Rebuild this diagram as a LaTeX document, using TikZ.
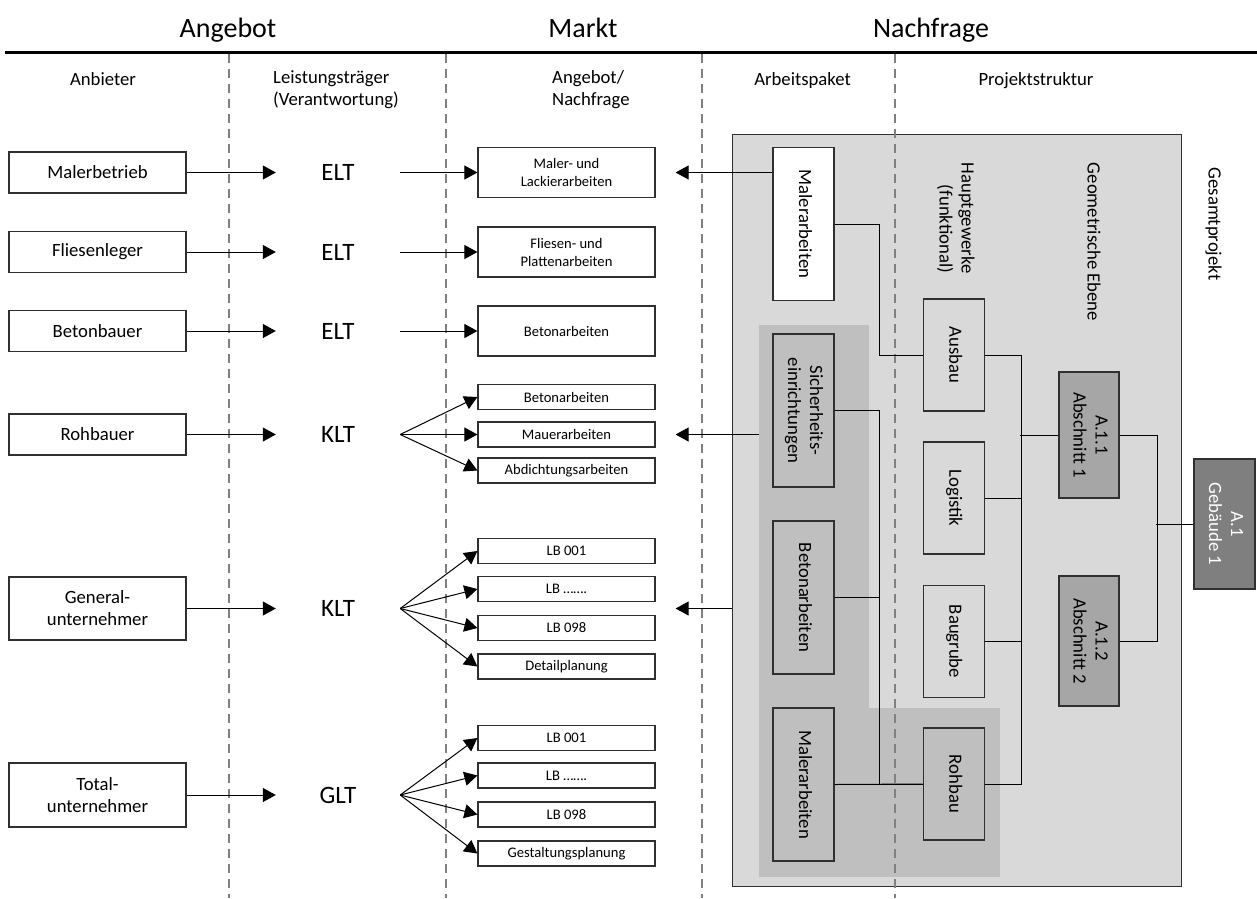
\documentclass[tikz,border=0pt]{standalone}
\usepackage{fontspec}
\setmainfont{Carlito}
\usepackage{graphicx}
\usetikzlibrary{arrows.meta,calc}

\definecolor{fillA}{HTML}{D9D9D9}
\definecolor{fillB}{HTML}{BFBFBF}
\definecolor{fillC}{HTML}{A6A6A6}
\definecolor{fillD}{HTML}{7F7F7F}
\definecolor{dashgray}{HTML}{808080}
\definecolor{edgegray}{HTML}{303030}

\newcommand\fmain{\fontsize{18.7}{22}\selectfont}
\newcommand\fhead{\fontsize{28}{32}\selectfont}
\newcommand\flevel{\fontsize{25}{30}\selectfont}
\newcommand\fsmall{\fontsize{14.6}{18}\selectfont}
\newcommand\rot[2][c]{\rotatebox{-90}{\begin{tabular}{@{}#1@{}}#2\end{tabular}}}

\begin{document}
\begin{tikzpicture}[x=1pt,y=-1pt,
  box/.style={draw=edgegray,line width=1.2pt,inner sep=0pt,align=center,font=\fmain},
  lbox/.style={box,minimum width=177pt,minimum height=41pt},
  mbox/.style={draw=edgegray,line width=1.2pt,inner sep=0pt,align=center,font=\fsmall,minimum width=177pt,minimum height=25pt},
  vbox/.style={box,minimum width=61pt},
  level/.style={inner sep=0pt,font=\flevel,minimum width=124pt,minimum height=20pt},
  arr/.style={line width=1pt,-{Triangle[length=13pt,width=14pt]}},
  con/.style={line width=1pt},
  sep/.style={dashgray,line width=1.8pt,dash pattern=on 9pt off 6pt},
  head/.style={font=\fhead,anchor=base,inner sep=0pt},
  sub/.style={font=\fmain,inner sep=0pt},
]
\useasboundingbox (0,0) rectangle (1257,898);

% ---- headings
\node[head] (hAng) at (228,37) {Angebot};
\node[head] (hMar) at (583,37) {Markt};
\node[head] (hNach) at (931,37) {Nachfrage};
\draw[line width=3pt] (5,52.5) -- (1257,52.5);

\node[sub,anchor=base] (sAnb) at (103,85) {Anbieter};
\node[sub,anchor=north west,align=left] (sLT) at (273,70) {Leistungsträger\\(Verantwortung)};
\node[sub,anchor=north west,align=left] (sAN) at (552,70) {Angebot/\\Nachfrage};
\node[sub,anchor=base] (sAP) at (802.5,85) {Arbeitspaket};
\node[sub,anchor=base] (sPS) at (1036,85) {Projektstruktur};

% ---- project area backgrounds
\node[draw=edgegray,line width=1.2pt,fill=fillA,anchor=north west,minimum width=449pt,minimum height=752pt,inner sep=0pt] (gp) at (732,133.5) {};
\node[fill=fillB,anchor=north west,minimum width=110pt,minimum height=552pt,inner sep=0pt] (grp) at (759,325) {};
\node[fill=fillB,anchor=north west,minimum width=241pt,minimum height=169pt,inner sep=0pt] (grp2) at (759,708) {};

% ---- column separators
\foreach \xs in {229,446,702,895}
  \draw[sep] (\xs,54) -- (\xs,898);

% ---- suppliers
\node[lbox] (a1) at (97.5,172.5) {Malerbetrieb};
\node[lbox] (a2) at (97.5,252) {Fliesenleger};
\node[lbox] (a3) at (97.5,331) {Betonbauer};
\node[lbox] (a4) at (97.5,434.5) {Rohbauer};
\node[lbox,minimum height=63pt] (a5) at (97.5,608.5) {General-\\unternehmer};
\node[lbox,minimum height=64pt] (a6) at (97.5,795) {Total-\\unternehmer};

% ---- performance levels
\node[level] (l1) at (338,172.5) {ELT};
\node[level] (l2) at (338,252) {ELT};
\node[level] (l3) at (338,331) {ELT};
\node[level] (l4) at (338,434.5) {KLT};
\node[level] (l5) at (338,608.5) {KLT};
\node[level] (l6) at (338,795) {GLT};

\foreach \i in {1,...,6}
  \draw[arr] (a\i.east) -- (l\i.west);

% ---- market
\node[mbox,minimum height=50pt] (m1) at (566.5,172.5) {Maler- und\\Lackierarbeiten};
\node[mbox,minimum height=50pt] (m2) at (566.5,252) {Fliesen- und\\Plattenarbeiten};
\node[mbox,minimum height=50pt] (m3) at (566.5,331) {Betonarbeiten};
\node[mbox] (k1) at (566.5,397) {Betonarbeiten};
\node[mbox] (k2) at (566.5,434.5) {Mauerarbeiten};
\node[mbox] (k3) at (566.5,470.5) {Abdichtungsarbeiten};
\node[mbox] (g1) at (566.5,551) {LB 001};
\node[mbox] (g2) at (566.5,589) {LB …….};
\node[mbox] (g3) at (566.5,628) {LB 098};
\node[mbox] (g4) at (566.5,666.5) {Detailplanung};
\node[mbox] (t1) at (566.5,738) {LB 001};
\node[mbox] (t2) at (566.5,775.5) {LB …….};
\node[mbox] (t3) at (566.5,814.5) {LB 098};
\node[mbox] (t4) at (566.5,853.5) {Gestaltungsplanung};

\draw[arr] (l1.east) -- (m1.west);
\draw[arr] (l2.east) -- (m2.west);
\draw[arr] (l3.east) -- (m3.west);
\foreach \i in {1,2,3}
  \draw[arr] (l4.east) -- (k\i.west);
\foreach \i in {1,...,4}
  \draw[arr] (l5.east) -- (g\i.west);
\foreach \i in {1,...,4}
  \draw[arr] (l6.east) -- (t\i.west);

% ---- work packages
\node[vbox,fill=white,minimum height=153pt] (p1) at (803.5,224) {\rot{Malerarbeiten}};
\node[vbox,fill=fillB,minimum height=153pt] (p2) at (803.5,410.5) {\rot{Sicherheits-\\einrichtungen}};
\node[vbox,fill=fillB,minimum height=153pt] (p3) at (803.5,597.5) {\rot{Betonarbeiten}};
\node[vbox,fill=fillB,minimum height=153pt] (p4) at (803.5,784.5) {\rot{Malerarbeiten}};

% demand side arrows back into the market
\coordinate (r1) at ($(m1.east)+(20,0)$);
\coordinate (r4) at ($(k2.east)+(20,0)$);
\coordinate (r5) at ($(g2.east)!0.5!(g3.east)+(20,0)$);
\draw[arr] (p1.west |- m1.east) -- (r1);
\draw[arr] (grp.west |- k2.east) -- (r4);
\draw[arr] (gp.west |- r5) -- (r5);

% ---- functional trades
\node[vbox,fill=fillA,minimum height=112pt] (f1) at (953.75,355) {\rot{Ausbau}};
\node[vbox,fill=fillA,minimum height=112pt] (f2) at (953.75,498) {\rot{Logistik}};
\node[vbox,fill=fillA,minimum height=112pt] (f3) at (953.75,641.5) {\rot{Baugrube}};
\node[vbox,fill=fillB,minimum height=112pt] (f4) at (953.75,784) {\rot{Rohbau}};

% ---- geometric level
\node[vbox,fill=fillC,minimum width=60pt,minimum height=126pt] (s1) at (1089,435) {\rot{A.1.1\\Abschnitt 1}};
\node[vbox,fill=fillC,minimum width=60pt,minimum height=130pt] (s2) at (1089,641) {\rot{A.1.2\\Abschnitt 2}};
\node[vbox,fill=fillD,minimum height=130pt,text=white] (b1) at (1224.5,524) {\rot{A.1\\Gebäude 1}};

% ---- level labels
\node[sub] (lbHG) at (955,218) {\rot[r]{Hauptgewerke\\(funktional)}};
\node[sub] (lbGE) at (1092,242) {\rot{Geometrische Ebene}};
\node[sub] (lbGP) at (1213,224) {\rot{Gesamtprojekt}};

% ---- structure connectors
\draw[con] (p1.east) -- ++(45,0) |- (f1.west);
\draw[con] (p2.east) -- ++(45,0) |- (f4.west);
\draw[con] (p3.east) -- ++(45,0);
\draw[con] (p4.east) -- (f4.west);
\draw[con] (f1.east) -- ++(37,0) |- (f4.east);
\draw[con] (f2.east) -- ++(37,0);
\draw[con] (f3.east) -- ++(37,0);
\draw[con] (s1.west) -- ++(-38,0);
\draw[con] (s1.east) -- ++(38,0) |- (s2.east);
\draw[con] (b1.west) -- ++(-37.5,0);
\end{tikzpicture}
\end{document}
